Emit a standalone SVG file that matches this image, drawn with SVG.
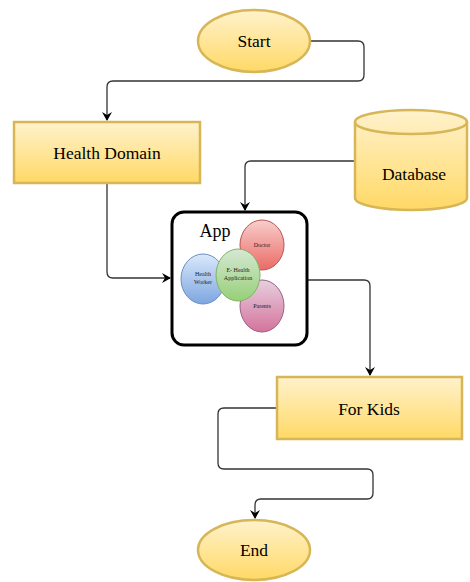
<svg xmlns="http://www.w3.org/2000/svg" width="470" height="582" viewBox="0 0 470 582">
<defs>
<linearGradient id="gy" x1="0" y1="0" x2="0" y2="1"><stop offset="0" stop-color="#fff2cc"/><stop offset="1" stop-color="#ffd966"/></linearGradient>
<linearGradient id="gr" x1="0" y1="0" x2="0" y2="1"><stop offset="0" stop-color="#f8cecc"/><stop offset="1" stop-color="#ea6b66"/></linearGradient>
<linearGradient id="gb" x1="0" y1="0" x2="0" y2="1"><stop offset="0" stop-color="#dae8fc"/><stop offset="1" stop-color="#7ea6e0"/></linearGradient>
<linearGradient id="gg" x1="0" y1="0" x2="0" y2="1"><stop offset="0" stop-color="#d5e8d4"/><stop offset="1" stop-color="#97d077"/></linearGradient>
<linearGradient id="gp" x1="0" y1="0" x2="0" y2="1"><stop offset="0" stop-color="#e6d0de"/><stop offset="1" stop-color="#d5739d"/></linearGradient>
<marker id="arr" markerWidth="10" markerHeight="10" refX="8" refY="5" orient="auto" markerUnits="userSpaceOnUse"><path d="M0,0 L9,5 L0,10 L3,5 Z" fill="#000"/></marker>
</defs>
<style>
.y{fill:url(#gy);stroke:#d6b656;stroke-width:2.5}
.c{fill:none;stroke:#333;stroke-width:1.3;stroke-linejoin:round}
text{font-family:'Liberation Serif',serif;text-anchor:middle}
.t{font-size:17.5px;fill:#000}
.s{font-size:6px;fill:#222}
</style>
<g id="connectors">
<path class="c" d="M310,41 H358 Q364,41 364,47 V75 Q364,81 358,81 H113 Q107,81 107,87 V120" marker-end="url(#arr)"/>
<path class="c" d="M107,183 V272 Q107,278 113,278 H170" marker-end="url(#arr)"/>
<path class="c" d="M355,161 H251 Q245,161 245,167 V210" marker-end="url(#arr)"/>
<path class="c" d="M307,280 H364 Q370,280 370,286 V375" marker-end="url(#arr)"/>
<path class="c" d="M277,408 H224 Q218,408 218,414 V463 Q218,469 224,469 H367 Q373,469 373,475 V493 Q373,499 367,499 H261 Q255,499 255,505 V518" marker-end="url(#arr)"/>
</g>
<g id="start"><ellipse class="y" cx="254" cy="41" rx="56" ry="31"/><text class="t" x="254" y="47">Start</text></g>
<g id="health-domain"><rect class="y" x="14" y="122" width="186" height="61"/><text class="t" x="107" y="159">Health Domain</text></g>
<g id="database"><path class="y" d="M355,122 A56,12 0 0 1 467,122 V198 A56,12 0 0 1 355,198 Z"/><path fill="none" stroke="#d6b656" stroke-width="2.5" d="M355,122 A56,12 0 0 0 467,122"/><text class="t" x="414" y="180">Database</text></g>
<g id="app">
<rect x="172" y="212" width="135" height="133" rx="12" fill="#fff" stroke="#000" stroke-width="3"/>
<text x="215" y="237" font-size="18">App</text>
<ellipse cx="262" cy="245" rx="22" ry="25" fill="url(#gr)" stroke="#b85450"/>
<text class="s" x="262" y="247">Doctor</text>
<ellipse cx="262" cy="306" rx="22" ry="26" fill="url(#gp)" stroke="#996185"/>
<text class="s" x="262" y="308">Parents</text>
<ellipse cx="203" cy="279" rx="22" ry="25" fill="url(#gb)" stroke="#6c8ebf"/>
<text class="s" x="203" y="276">Health</text><text class="s" x="203" y="284">Worker</text>
<ellipse cx="238" cy="275" rx="22" ry="26" fill="url(#gg)" stroke="#82b366"/>
<text class="s" x="238" y="272">E- Health</text><text class="s" x="238" y="280">Application</text>
</g>
<g id="for-kids"><rect class="y" x="277" y="377" width="185" height="62"/><text class="t" x="369" y="415">For Kids</text></g>
<g id="end"><ellipse class="y" cx="254" cy="550" rx="56" ry="30"/><text class="t" x="254" y="556">End</text></g>
</svg>
